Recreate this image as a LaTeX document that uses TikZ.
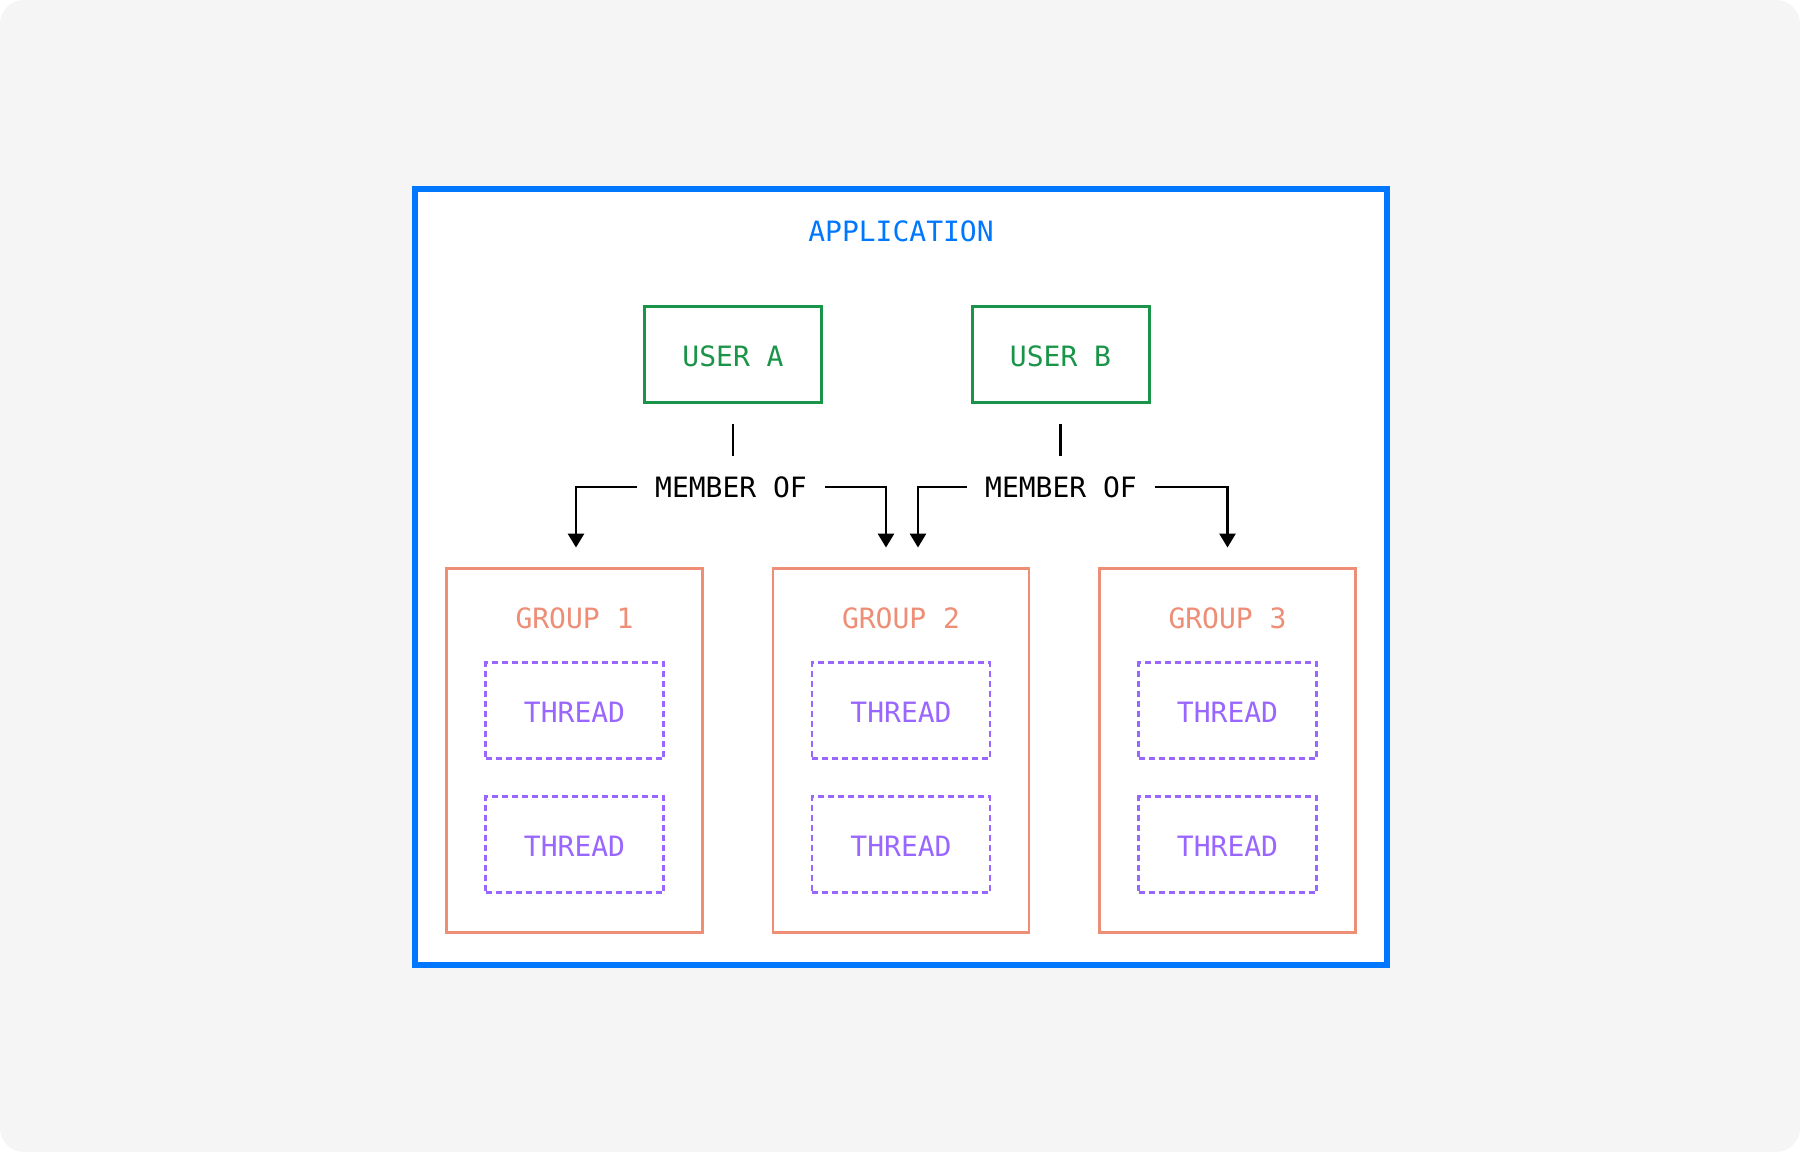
\documentclass[tikz,border=0pt]{standalone}
\usepackage{fontspec}
\newfontfamily\diagfont{DejaVu Sans Mono}
\usetikzlibrary{positioning,arrows.meta}
\definecolor{bggray}{RGB}{245,245,245}
\definecolor{appblue}{RGB}{0,119,255}
\definecolor{usergreen}{RGB}{26,148,72}
\definecolor{groupred}{RGB}{238,142,118}
\definecolor{threadpurple}{RGB}{153,102,255}

\begin{document}
\begin{tikzpicture}[x=0.5pt,y=-0.5pt,
    font=\diagfont\fontsize{14}{17}\selectfont,
    appbox/.style={draw=appblue, fill=white, line width=3pt, minimum width=486pt, minimum height=388pt},
    userbox/.style={draw=usergreen, line width=1.5pt, text=usergreen, text height=12.2pt, text depth=0pt, minimum width=88.5pt, minimum height=48pt},
    groupbox/.style={draw=groupred, line width=1.45pt, minimum width=128pt, minimum height=182pt},
    threadbox/.style={draw=threadpurple, line width=1.4pt, dash pattern=on 3pt off 2pt, text=threadpurple, text height=12.2pt, text depth=0pt, minimum width=89pt, minimum height=48pt},
    memberlabel/.style={inner xsep=9pt},
    link/.style={line width=1.4pt, -{Triangle[width=8pt,length=7pt]}}
]
    % background and application frame
    \fill[bggray, rounded corners=12pt] (0,0) rectangle (1800,1152);
    \node[appbox] (app) at (901,577) {};
    \node[text=appblue] (apptitle) at (901,231) {APPLICATION};

    % users
    \node[userbox] (usera) at (733,354.5) {USER A};
    \node[userbox] (userb) at (1060.5,354.5) {USER B};

    % groups with their threads
    \foreach \i/\x in {1/574.5,2/901,3/1227.5} {
        \node[groupbox] (group\i) at (\x,750.5) {};
        \node[text=groupred] (glabel\i) at (\x,618) {GROUP \i};
        \node[threadbox] (thread\i a) at (\x,710.5) {THREAD};
        \node[threadbox] (thread\i b) at (\x,844.5) {THREAD};
    }

    % membership
    \node[memberlabel] (mema) at (731,487) {MEMBER OF};
    \node[memberlabel] (memb) at (1061,487) {MEMBER OF};

    \draw[line width=1.4pt, shorten <=10pt, shorten >=6.5pt] (usera.south) -- (usera.south |- mema.north);
    \draw[line width=1.4pt, shorten <=10pt, shorten >=6.5pt] (userb.south) -- (userb.south |- memb.north);

    \draw[link] (mema.west) -| ([xshift=0.75pt,yshift=9.75pt]group1.north);
    \draw[link] (mema.east) -| ([xshift=-7.5pt,yshift=9.75pt]group2.north);
    \draw[link] (memb.west) -| ([xshift=8.5pt,yshift=9.75pt]group2.north);
    \draw[link] (memb.east) -| ([yshift=9.75pt]group3.north);
\end{tikzpicture}
\end{document}
